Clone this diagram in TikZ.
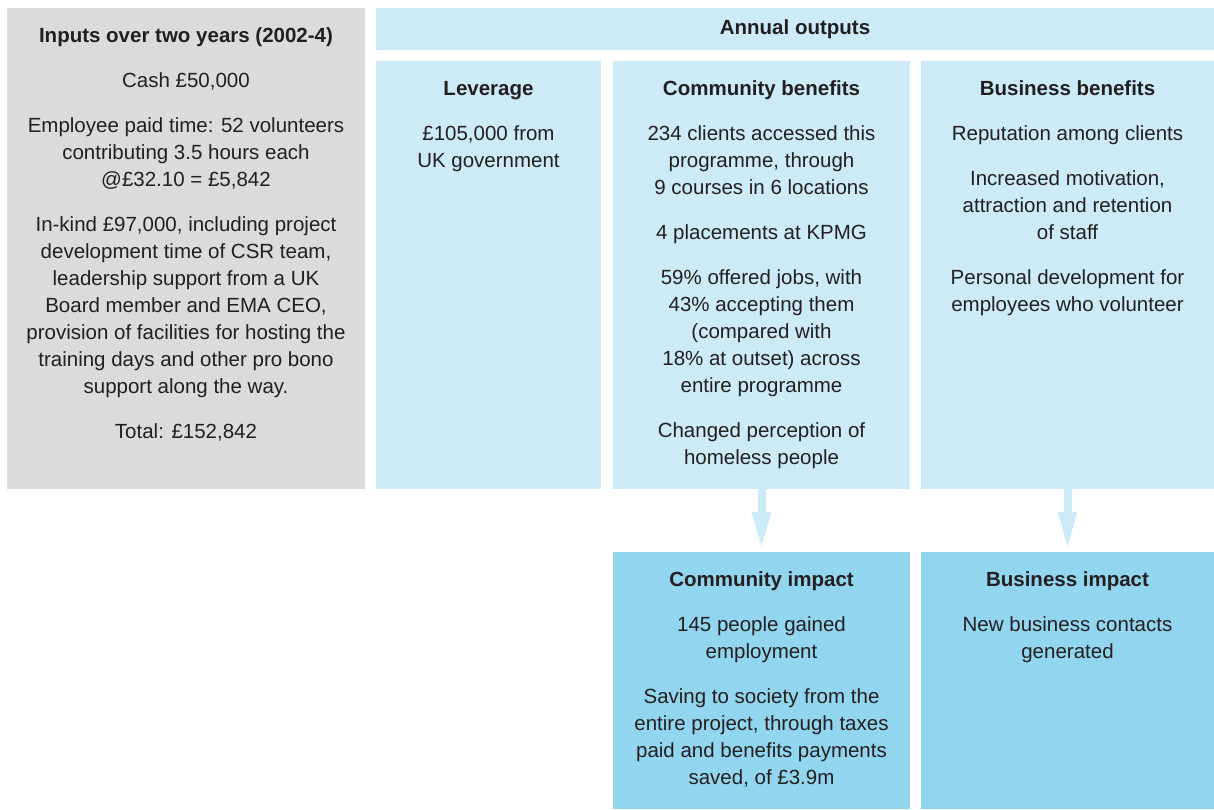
\documentclass[tikz,border=0pt]{standalone}
\usepackage{fontspec}
\setmainfont{Liberation Sans}
\usetikzlibrary{arrows.meta}
\definecolor{greybox}{HTML}{DADBDD}
\definecolor{lightblue}{HTML}{CDEBF7}
\definecolor{darkblue}{HTML}{92D5EE}
\definecolor{txt}{HTML}{231F20}
\newcommand{\fl}{\rule{0pt}{16pt}}
\begin{document}
\begin{tikzpicture}[x=1pt,y=-1pt,
  panel/.style={inner sep=0pt, outer sep=0pt, anchor=north west, draw=none},
  para/.style={anchor=north, inner sep=0pt, outer sep=0pt, align=center, text=txt,
    font=\fontsize{20.5}{27}\selectfont},
  flow/.style={draw=lightblue, fill=lightblue, line width=8pt,
    -{Triangle[width=20pt,length=34pt,line width=0pt]}, shorten >=6pt}
]
\useasboundingbox (0,0) rectangle (1214,809);
% panels
\node[panel, fill=greybox, minimum width=358pt, minimum height=481pt] (inputs) at (7,8) {};
\node[panel, fill=lightblue, minimum width=838pt, minimum height=42pt] (outhdr) at (376,8) {};
\node[panel, fill=lightblue, minimum width=225pt, minimum height=428pt] (lev) at (376,61) {};
\node[panel, fill=lightblue, minimum width=297pt, minimum height=428pt] (comm) at (613,61) {};
\node[panel, fill=lightblue, minimum width=293pt, minimum height=428pt] (bus) at (921,61) {};
\node[panel, fill=darkblue, minimum width=297pt, minimum height=257pt] (cimp) at (613,552) {};
\node[panel, fill=darkblue, minimum width=293pt, minimum height=257pt] (bimp) at (921,552) {};
% texts
\node[para] (inputs-t) at (186,26) {\fl\textbf{Inputs over two years (2002-4)}\\[18pt]
Cash £50,000\\[18pt]
Employee paid time: 52 volunteers\\
contributing 3.5 hours each\\
@£32.10 = £5,842\\[18pt]
In-kind £97,000, including project\\
development time of CSR team,\\
leadership support from a UK\\
Board member and EMA CEO,\\
provision of facilities for hosting the\\
training days and other pro bono\\
support along the way.\\[18pt]
Total: £152,842};
\node[para, anchor=base] (outhdr-t) at (795,34) {\textbf{Annual outputs}};
\node[para] (lev-t) at (488.5,79) {\fl\textbf{Leverage}\\[18pt]
£105,000 from\\
UK government};
\node[para] (comm-t) at (761.5,79) {\fl\textbf{Community benefits}\\[18pt]
234 clients accessed this\\
programme, through\\
9 courses in 6 locations\\[18pt]
4 placements at KPMG\\[18pt]
59\% offered jobs, with\\
43\% accepting them\\
(compared with\\
18\% at outset) across\\
entire programme\\[18pt]
Changed perception of\\
homeless people};
\node[para] (bus-t) at (1067.5,79) {\fl\textbf{Business benefits}\\[18pt]
Reputation among clients\\[18pt]
Increased motivation,\\
attraction and retention\\
of staff\\[18pt]
Personal development for\\
employees who volunteer};
\node[para] (cimp-t) at (761.5,570) {\fl\textbf{Community impact}\\[18pt]
145 people gained\\
employment\\[18pt]
Saving to society from the\\
entire project, through taxes\\
paid and benefits payments\\
saved, of £3.9m};
\node[para] (bimp-t) at (1067.5,570) {\fl\textbf{Business impact}\\[18pt]
New business contacts\\
generated};
% arrows
\draw[flow] (comm.south) -- (cimp.north);
\draw[flow] (bus.south) -- (bimp.north);
\end{tikzpicture}
\end{document}
